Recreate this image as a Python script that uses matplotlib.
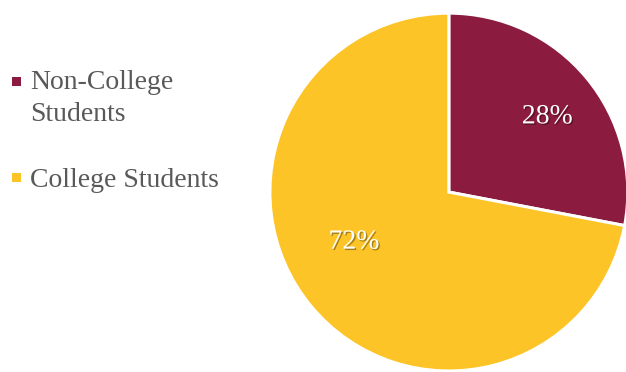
import matplotlib.pyplot as plt
import matplotlib.patheffects as pe
from matplotlib.patches import Rectangle

categorias = ["Non-College\nStudents", "College Students"]
valores = [28, 72]
cores = ["#8C1B40", "#FDC427"]

plt.rcParams["font.family"] = ["Liberation Serif", "DejaVu Serif"]

W, H = 626, 372
fig = plt.figure(figsize=(W / 100, H / 100), dpi=100)
ax = fig.add_axes([0.431, 0.0027, 0.572, 0.962])

fatias, textos, pcts = ax.pie(
    valores,
    colors=cores,
    startangle=90,
    counterclock=False,
    autopct="%d%%",
    pctdistance=0.66,
    radius=1.0,
    wedgeprops=dict(edgecolor="white", linewidth=2.2),
    textprops=dict(color="white", fontsize=20),
)
# label placement as in the original
pcts[0].set_position((0.55, 0.42))
pcts[1].set_position((-0.53, -0.28))
for t in pcts:
    t.set_path_effects([
        pe.SimplePatchShadow(offset=(1, -1), shadow_rgbFace="black", alpha=0.35),
        pe.Normal(),
    ])
ax.set_xlim(-1, 1)
ax.set_ylim(-1, 1)
ax.set_aspect("equal")

# legend drawn by hand: square aligned with the first line of each label
baselines = [89, 187]
centros = [81, 177.5]
for cat, cor, base, yc in zip(categorias, cores, baselines, centros):
    fig.patches.append(Rectangle((11.5 / W, 1 - (yc + 4.5) / H), 9 / W, 9 / H,
                                 transform=fig.transFigure, facecolor=cor,
                                 edgecolor="none"))
    for i, linha in enumerate(cat.split("\n")):
        fig.text(30 / W, 1 - (base + 32 * i) / H, linha, fontsize=20,
                 color="#595959", va="baseline", ha="left")

fig.savefig("out.png", dpi=100)
